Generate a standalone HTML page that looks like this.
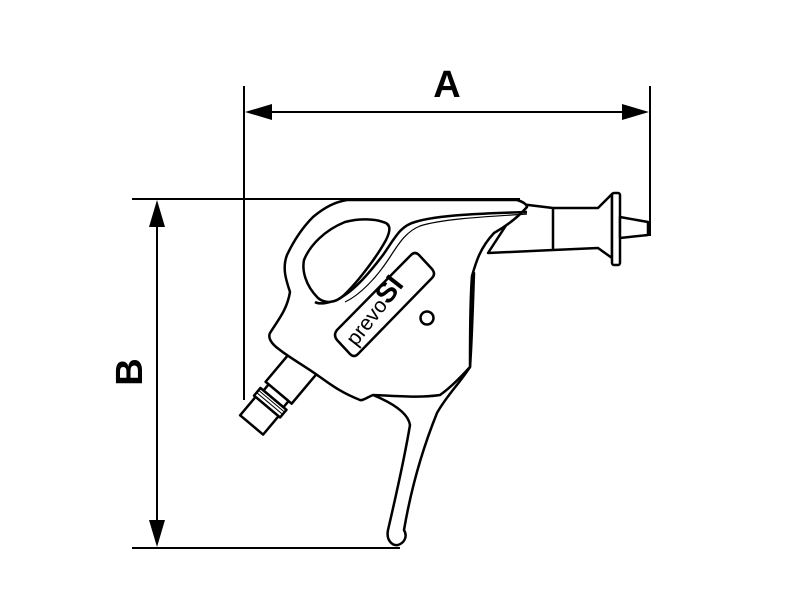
<!DOCTYPE html>
<html><head><style>html,body{margin:0;padding:0;background:#fff}svg{display:block}</style></head>
<body>
<svg width="800" height="600" viewBox="0 0 800 600" xmlns="http://www.w3.org/2000/svg">
<g stroke="#000" stroke-width="2" fill="none">
<line x1="244" y1="86" x2="244" y2="400"/>
<line x1="650" y1="86" x2="650" y2="236"/>
<line x1="268" y1="112" x2="626" y2="112"/>
<line x1="132" y1="199" x2="520" y2="199"/>
<line x1="132" y1="548" x2="400" y2="548"/>
<line x1="157" y1="222" x2="157" y2="525"/>
</g>
<g fill="#000">
<polygon points="245,112 272,104 272,120"/>
<polygon points="649,112 622,104 622,120"/>
<polygon points="157,200 149,227 165,227"/>
<polygon points="157,547 149,520 165,520"/>
</g>
<text x="447" y="97" font-family="Liberation Sans, sans-serif" font-weight="bold" font-size="38" text-anchor="middle">A</text>
<text x="0" y="0" transform="translate(142,372) rotate(-90)" font-family="Liberation Sans, sans-serif" font-weight="bold" font-size="38" text-anchor="middle">B</text>
<g stroke="#000" stroke-width="2.5" fill="#fff" stroke-linejoin="round">
<path d="M520,204 L553,208 L598,208 L612,194 L612,258 L598,248 L553,250 L488,253 Z"/>
<line x1="553" y1="208" x2="553" y2="250"/>
<rect x="612" y="193" width="8" height="72" rx="2"/>
<path d="M620,217 L648,222 L648,235 L620,238 Z"/>
<path d="M373,395 C390,402 408,412 410,425 C405,455 395,500 388,530 C386,540 392,546 398,545 C404,543 408,537 404,530 C410,495 420,455 437,413 C447,395 460,383 470,367 C472,340 473,300 474,273 Z"/>
<g transform="translate(302,368) rotate(40)">
<rect x="-19" y="-6" width="34" height="40"/>
<rect x="-15" y="34" width="26" height="8"/>
<rect x="-19" y="42" width="34" height="10"/>
<path d="M-19,45 H15 M-19,48 H15" stroke-width="1"/>
<rect x="-17" y="52" width="30" height="24"/>
</g>
<path d="M347,200 L517,200 C524,202 527,205 527,207 C520,215 508,225 494,233 C480,248 476,262 472,276 C470,300 470,340 470,367 C460,378 450,388 440,395 C420,398 400,396 373,395 C366,398 362,401 360,400 C340,392 330,384 320,377 C305,366 290,358 280,350 C270,343 268,337 270,333 C278,320 287,310 290,292 C286,280 282,268 287,255 C296,236 305,225 313,217 C325,207 335,202 347,200 Z"/>
<path d="M527,212 C500,213 440,214 415,222 C400,226 395,238 383,255 C370,272 355,290 340,298 C330,303 320,305 315,302" fill="none"/>
<path d="M527,214 C500,216 445,218 420,226 C405,232 398,245 388,260 C376,278 360,295 345,302" fill="none" stroke-width="1.2"/>
<path d="M383,222 C392,224 390,232 386,240 C375,260 355,285 343,296 C335,303 325,304 318,298 C305,285 302,270 304,260 C310,245 325,230 345,222 C360,218 375,219 383,222 Z"/>
<path d="M337,330 L411,255 Q415,251 419,255 L432,269 Q436,274 432,278 L358,354 Q354,358 350,354 L337,340 Q333,335 337,330 Z"/>
<circle cx="427" cy="318" r="6.5" stroke-width="2.5"/>
</g>
<text x="0" y="0" transform="translate(356,347) rotate(-52)" font-family="Liberation Sans, sans-serif" font-size="21" fill="#000">prevo<tspan font-weight="bold" font-size="28">SI</tspan></text>
</svg>
</body></html>
